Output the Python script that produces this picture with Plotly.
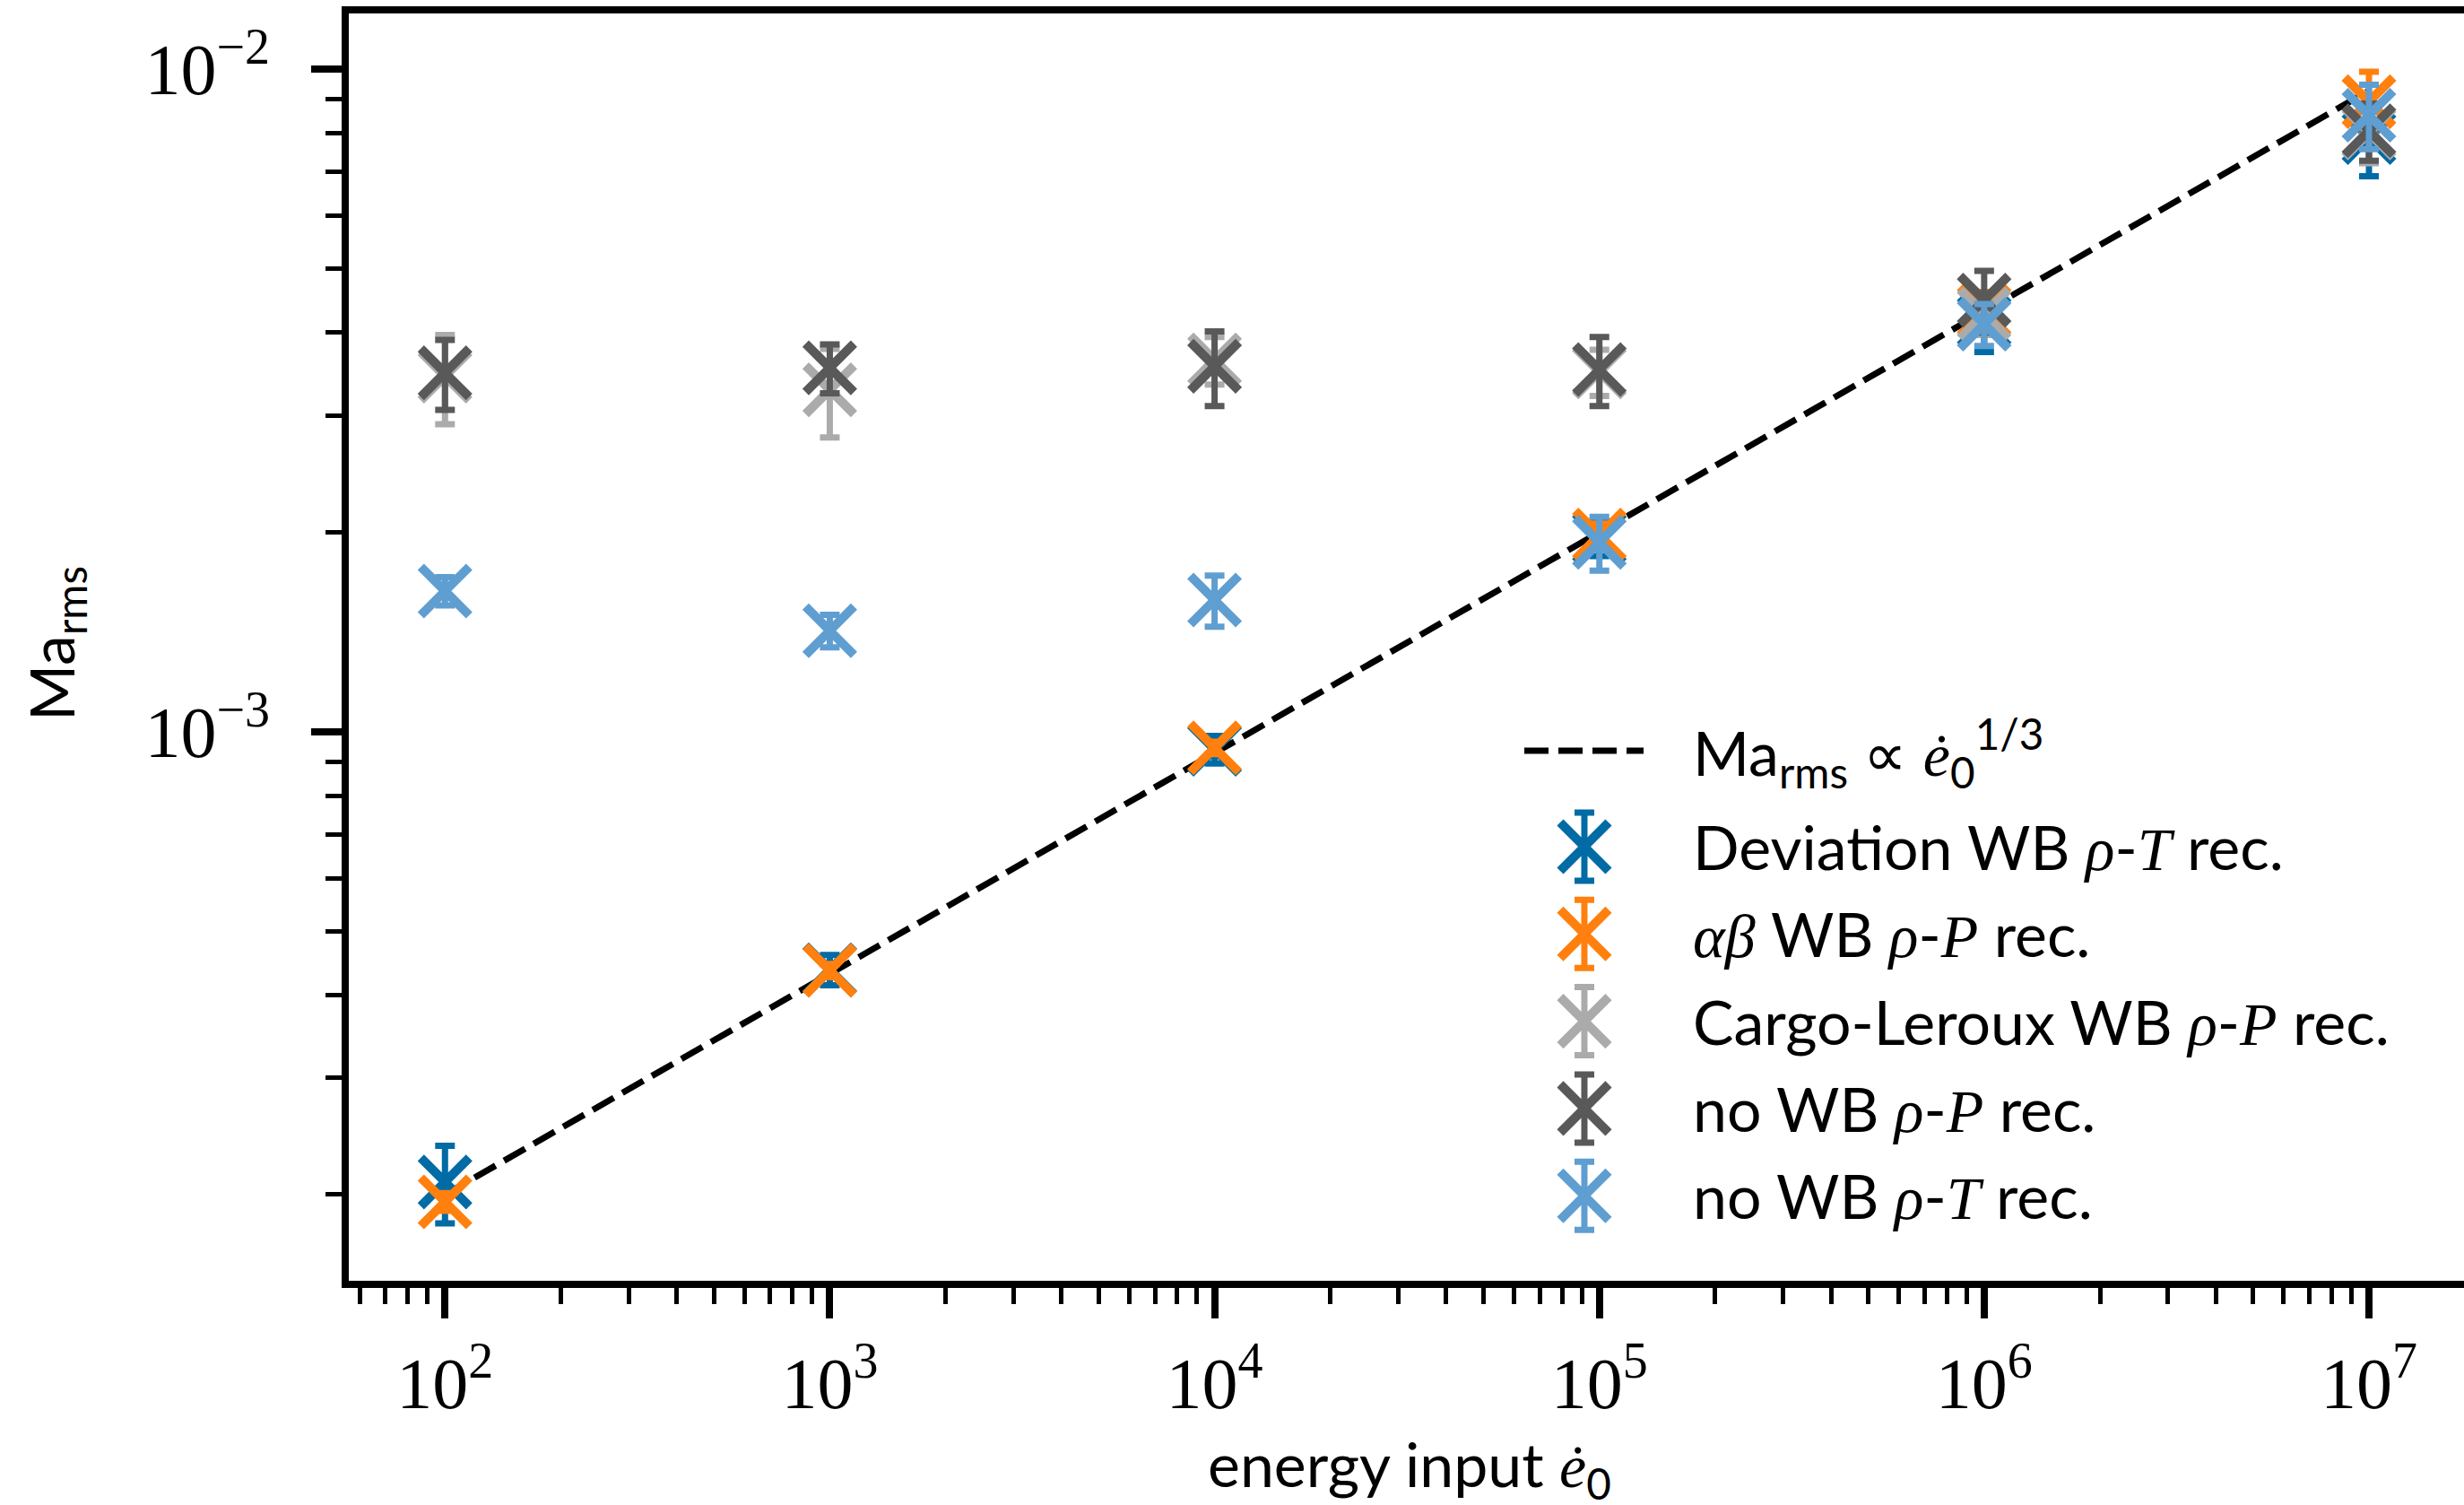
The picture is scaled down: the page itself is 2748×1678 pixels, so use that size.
import plotly.graph_objects as go

# energy input values (x) shared by all runs
energy = [1e2, 1e3, 1e4, 1e5, 1e6, 1e7]

# Ma_rms and 1-sigma errors per reconstruction scheme
dev_wb_rt = [2.09e-4, 4.37e-4, 9.40e-4, 1.96e-3, 4.16e-3, 7.88e-3]
dev_wb_rt_err = [0.28e-4, 0.23e-4, 0.45e-4, 0.12e-3, 0.42e-3, 0.99e-3]

ab_wb_rp = [1.95e-4, 4.36e-4, 9.45e-4, 1.98e-3, 4.31e-3, 8.93e-3]
ab_wb_rp_err = [0.06e-4, 0.10e-4, 0.20e-4, 0.08e-3, 0.30e-3, 0.98e-3]

cl_wb_rp = [3.44e-3, 3.28e-3, 3.64e-3, 3.49e-3, 4.27e-3, 8.01e-3]
cl_wb_rp_err = [0.53e-3, 0.50e-3, 0.30e-3, 0.28e-3, 0.30e-3, 0.80e-3]

nowb_rp = [3.48e-3, 3.54e-3, 3.56e-3, 3.52e-3, 4.48e-3, 8.07e-3]
nowb_rp_err = [0.42e-3, 0.30e-3, 0.46e-3, 0.42e-3, 0.48e-3, 0.80e-3]

nowb_rt = [1.63e-3, 1.42e-3, 1.58e-3, 1.93e-3, 4.12e-3, 8.52e-3]
nowb_rt_err = [0.08e-3, 0.08e-3, 0.14e-3, 0.18e-3, 0.30e-3, 0.95e-3]

# reference scaling Ma_rms ~ e0^(1/3), end points
scaling_x = [1e2, 1e7]
scaling_y = [2.0e-4, 9.28e-3]

# axis ticks
x_tickvals = [1e2, 1e3, 1e4, 1e5, 1e6, 1e7]
x_ticktext = ["10<sup>2</sup>", "10<sup>3</sup>", "10<sup>4</sup>",
              "10<sup>5</sup>", "10<sup>6</sup>", "10<sup>7</sup>"]
y_tickvals = [1e-3, 1e-2]
y_ticktext = ["10<sup>\u22123</sup>", "10<sup>\u22122</sup>"]

W, H = 2748, 1678
ML, MR, MT, MB = 389, 0, 15, 250
PW, PH = W - ML - MR, H - MT - MB

SANS = "Lato"
SERIF = "Liberation Serif"
TXT = 68
TICK = 80


def m(s):
    """math-italic span"""
    return f"<span style=\"font-family:'{SERIF}'\"><i>{s}</i></span>"


def px(x):
    return (x - ML) / PW


def py(y):
    return (H - MB - y) / PH


series = [
    ("Deviation WB " + m("\u03c1") + "-" + m("T") + " rec.", dev_wb_rt, dev_wb_rt_err, "#006BA4"),
    (m("\u03b1\u03b2") + " WB " + m("\u03c1") + "-" + m("P") + " rec.", ab_wb_rp, ab_wb_rp_err, "#FF800E"),
    ("Cargo-Leroux WB " + m("\u03c1") + "-" + m("P") + " rec.", cl_wb_rp, cl_wb_rp_err, "#ABABAB"),
    ("no WB " + m("\u03c1") + "-" + m("P") + " rec.", nowb_rp, nowb_rp_err, "#595959"),
    ("no WB " + m("\u03c1") + "-" + m("T") + " rec.", nowb_rt, nowb_rt_err, "#5F9ED1"),
]

MARKER_SIZE = 54
MARKER_LW = 10
ERR_THICK = 7
ERR_CAP = 11
DASH = "27px,11px"

fig = go.Figure()

fig.add_trace(go.Scatter(
    x=scaling_x, y=scaling_y, mode="lines",
    line=dict(color="black", width=7, dash=DASH),
    showlegend=False, hoverinfo="skip"))

for name, vals, errs, col in series:
    fig.add_trace(go.Scatter(
        x=energy, y=vals, mode="markers",
        marker=dict(symbol="x-thin", size=MARKER_SIZE,
                    line=dict(color=col, width=MARKER_LW)),
        error_y=dict(type="data", array=errs, visible=True,
                     color=col, thickness=ERR_THICK, width=ERR_CAP),
        showlegend=False, name=name))

# hand-built legend on a pixel-scaled overlay axis
LEG_GLYPH_X = 1767
LEG_LINE_X = (1700, 1833)
LEG_TEXT_X = 1886
LEG_LINE_Y = 837
LEG_ROW0_Y = 944
LEG_ROW_DY = 97.3
LEG_ERR = 38

fig.add_trace(go.Scatter(
    x=list(LEG_LINE_X), y=[LEG_LINE_Y, LEG_LINE_Y], mode="lines",
    line=dict(color="black", width=7, dash=DASH),
    xaxis="x2", yaxis="y2", showlegend=False, hoverinfo="skip"))

annotations = [dict(
    x=px(LEG_TEXT_X), y=py(LEG_LINE_Y + 2), xref="paper", yref="paper",
    xanchor="left", yanchor="middle", showarrow=False,
    text="Ma<sub>rms</sub> \u221d " + m("\u0117") + "<sub>0</sub><sup>1/3</sup>",
    font=dict(family=SANS, size=TXT, color="black"))]

for i, (name, vals, errs, col) in enumerate(series):
    ry = LEG_ROW0_Y + i * LEG_ROW_DY
    fig.add_trace(go.Scatter(
        x=[LEG_GLYPH_X], y=[ry], mode="markers",
        marker=dict(symbol="x-thin", size=MARKER_SIZE,
                    line=dict(color=col, width=MARKER_LW)),
        error_y=dict(type="constant", value=LEG_ERR, visible=True,
                     color=col, thickness=ERR_THICK, width=ERR_CAP),
        xaxis="x2", yaxis="y2", showlegend=False, hoverinfo="skip"))
    annotations.append(dict(
        x=px(LEG_TEXT_X), y=py(ry), xref="paper", yref="paper",
        xanchor="left", yanchor="middle", showarrow=False, text=name,
        font=dict(family=SANS, size=TXT, color="black")))

# axis titles
annotations.append(dict(
    x=px(1572), y=py(1636), xref="paper", yref="paper",
    xanchor="center", yanchor="middle", showarrow=False,
    text="energy input " + m("\u0117") + "<sub>0</sub>",
    font=dict(family=SANS, size=TXT, color="black")))
annotations.append(dict(
    x=px(61), y=py(718), xref="paper", yref="paper",
    xanchor="center", yanchor="middle", showarrow=False, textangle=-90,
    text="Ma<sub>rms</sub>",
    font=dict(family=SANS, size=TXT, color="black")))

minor_x = [k * 10 ** e for e in range(1, 8) for k in range(2, 10)]
minor_y = [k * 10 ** e for e in (-4, -3) for k in range(2, 10)]

fig.update_layout(
    width=W, height=H,
    margin=dict(l=ML, r=MR, t=MT, b=MB, pad=0),
    paper_bgcolor="white", plot_bgcolor="white",
    showlegend=False,
    annotations=annotations,
    xaxis=dict(
        type="log", range=[1.75, 7.247],
        showline=True, linecolor="black", linewidth=8, mirror=True,
        showgrid=False, zeroline=False,
        ticks="outside", ticklen=34, tickwidth=8, tickcolor="black",
        tickmode="array", tickvals=x_tickvals, ticktext=x_ticktext,
        tickfont=dict(family=SERIF, size=TICK, color="black"),
        ticklabelstandoff=4,
        minor=dict(tickmode="array", tickvals=minor_x, ticks="outside",
                   ticklen=18, tickwidth=5, tickcolor="black", showgrid=False),
    ),
    yaxis=dict(
        type="log", range=[-3.829, -1.916],
        showline=True, linecolor="black", linewidth=8, mirror=False,
        showgrid=False, zeroline=False,
        ticks="outside", ticklen=34, tickwidth=8, tickcolor="black",
        tickmode="array", tickvals=y_tickvals, ticktext=y_ticktext,
        tickfont=dict(family=SERIF, size=TICK, color="black"),
        ticklabelstandoff=30,
        minor=dict(tickmode="array", tickvals=minor_y, ticks="outside",
                   ticklen=18, tickwidth=5, tickcolor="black", showgrid=False),
    ),
    xaxis2=dict(range=[ML, W], overlaying="x", anchor="y2", visible=False,
                fixedrange=True),
    yaxis2=dict(range=[H - MB, MT], overlaying="y", anchor="x2", visible=False,
                fixedrange=True),
)

fig.write_html("out.html")
